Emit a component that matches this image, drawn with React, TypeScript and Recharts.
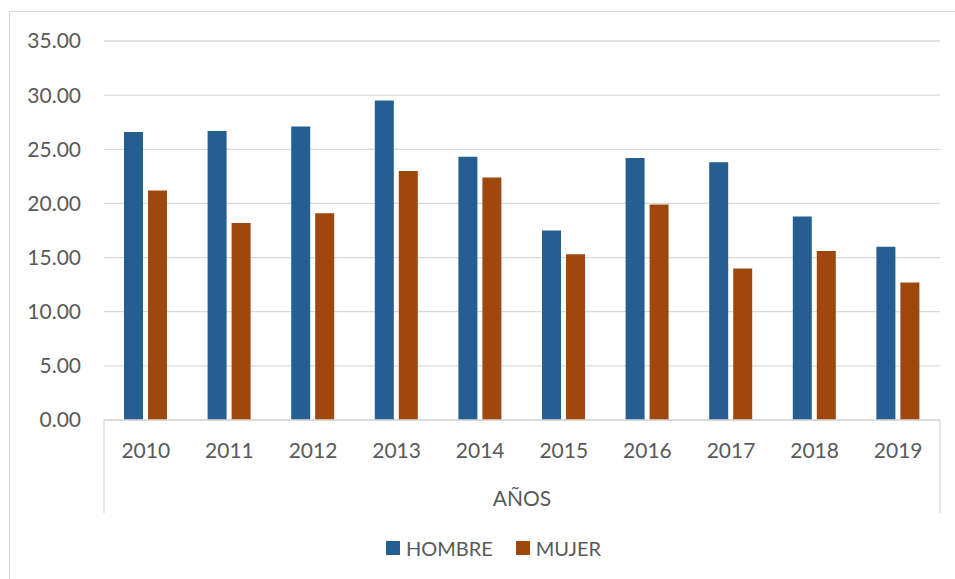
import React from 'react';
import { BarChart, Bar, XAxis, YAxis, CartesianGrid, Legend } from 'recharts';

const years = ['2010', '2011', '2012', '2013', '2014', '2015', '2016', '2017', '2018', '2019'];
const hombre = [26.6, 26.7, 27.1, 29.5, 24.3, 17.5, 24.2, 23.8, 18.8, 16.0];
const mujer = [21.2, 18.2, 19.1, 23.0, 22.4, 15.3, 19.9, 14.0, 15.6, 12.7];
const yTicks = [0, 5, 10, 15, 20, 25, 30, 35];

const data = years.map((y, i) => ({ year: y, HOMBRE: hombre[i], MUJER: mujer[i] }));

const W = 955;
const H = 579;
const PLOT_LEFT = 104;
const PLOT_RIGHT = 940;
const PLOT_TOP = 41;
const PLOT_BOTTOM = 420;
const XAXIS_H = 93;
const LEGEND_H = H - PLOT_BOTTOM - XAXIS_H;

const BLUE = '#255E91';
const BROWN = '#9E480E';
const TEXT = '#595959';
const GRID = '#d9d9d9';
const FONT = 'Lato, "Open Sans", sans-serif';

const LegendContent = () => (
  <div
    style={{
      width: W,
      height: LEGEND_H,
      display: 'flex',
      alignItems: 'center',
      justifyContent: 'center',
      fontFamily: FONT,
      fontSize: 20,
      color: TEXT,
      transform: 'translate(16px, 2px)',
    }}
  >
    {[
      { name: 'HOMBRE', color: BLUE },
      { name: 'MUJER', color: BROWN },
    ].map((it, i) => (
      <div key={it.name} style={{ display: 'flex', alignItems: 'center', marginLeft: i === 0 ? 0 : 23 }}>
        <span style={{ width: 14, height: 14, background: it.color, display: 'inline-block', marginRight: 6 }} />
        <span style={{ lineHeight: '20px' }}>{it.name}</span>
      </div>
    ))}
  </div>
);

export default function App() {
  return (
    <div
      style={{
        position: 'absolute',
        left: 0,
        top: 0,
        width: W,
        height: H,
        overflow: 'hidden',
        background: '#fff',
      }}
    >
      <div
        style={{
          position: 'absolute',
          left: 9,
          top: 11,
          width: W + 20,
          height: H + 20,
          border: `1px solid ${GRID}`,
          boxSizing: 'border-box',
        }}
      />
      <div style={{ position: 'absolute', left: 0, top: 0 }}>
        <BarChart
          width={W}
          height={H}
          data={data}
          margin={{ top: PLOT_TOP, right: W - PLOT_RIGHT, bottom: 0, left: 0 }}
          barSize={19}
          barGap={5}
        >
          <CartesianGrid vertical={false} stroke={GRID} strokeWidth={1.3} />
          <YAxis
            width={PLOT_LEFT}
            domain={[0, 35]}
            ticks={yTicks}
            interval={0}
            axisLine={false}
            tickLine={false}
            tickSize={0}
            tickMargin={23}
            tickFormatter={(v: number) => v.toFixed(2)}
            tick={{ fill: TEXT, fontSize: 21, fontFamily: FONT }}
          />
          <XAxis
            dataKey="year"
            height={XAXIS_H}
            axisLine={{ stroke: GRID, strokeWidth: 1.3 }}
            tickLine={false}
            tickSize={0}
            tickMargin={23}
            interval={0}
            tick={{ fill: TEXT, fontSize: 21, fontFamily: FONT }}
            label={{ value: 'AÑOS', position: 'insideBottom', offset: 7, fill: TEXT, fontSize: 21, fontFamily: FONT }}
          />
          <Legend verticalAlign="bottom" height={LEGEND_H} content={<LegendContent />} wrapperStyle={{ left: 0, width: W }} />
          <Bar dataKey="HOMBRE" fill={BLUE} isAnimationActive={false} />
          <Bar dataKey="MUJER" fill={BROWN} isAnimationActive={false} />
        </BarChart>
      </div>
      <svg
        width={W}
        height={H}
        style={{ position: 'absolute', left: 0, top: 0, pointerEvents: 'none' }}
      >
        <line x1={PLOT_LEFT} x2={PLOT_LEFT} y1={PLOT_BOTTOM} y2={PLOT_BOTTOM + XAXIS_H} stroke={GRID} strokeWidth={1.3} />
        <line x1={PLOT_RIGHT} x2={PLOT_RIGHT} y1={PLOT_BOTTOM} y2={PLOT_BOTTOM + XAXIS_H} stroke={GRID} strokeWidth={1.3} />
      </svg>
    </div>
  );
}
